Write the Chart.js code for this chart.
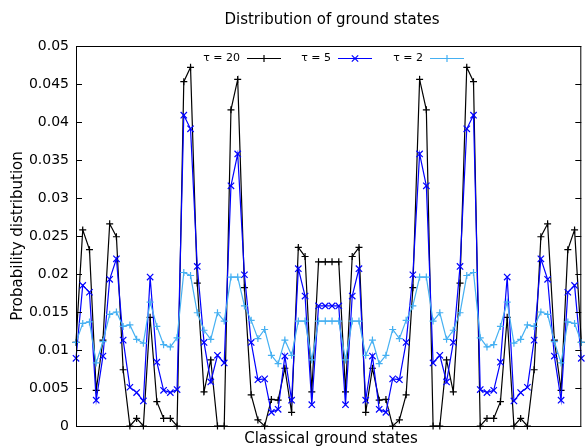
<!DOCTYPE html>
<html>
<head>
<meta charset="utf-8">
<script src="https://cdn.jsdelivr.net/npm/chart.js@4"></script>
<style>
  html, body { margin: 0; padding: 0; background: #fff; }
  #wrap { width: 587px; height: 448px; }
</style>
</head>
<body>
<div id="wrap"><canvas id="chart" width="587" height="448"></canvas></div>
<script>
/* Distribution of ground states - gnuplot style line chart */

var stateIndex = [];
for (var i = 0; i < 76; i++) stateIndex.push(i);

var seriesLabels = ['\u03c4 = 20', '\u03c4 = 5', '\u03c4 = 2'];

var tau20 = [
    0.0110, 0.0258, 0.0232, 0.0047, 0.0113, 0.0266, 0.0249, 0.0074, 0.0000, 0.0010,
    0.0000, 0.0143, 0.0032, 0.0010, 0.0010, 0.0000, 0.0453, 0.0472, 0.0188, 0.0045,
    0.0087, 0.0000, 0.0000, 0.0416, 0.0456, 0.0182, 0.0041, 0.0008, 0.0000, 0.0035,
    0.0034, 0.0076, 0.0018, 0.0235, 0.0223, 0.0045, 0.0216, 0.0216,
    0.0216, 0.0216, 0.0045, 0.0223, 0.0235, 0.0018, 0.0076, 0.0034, 0.0035, 0.0000,
    0.0008, 0.0041, 0.0182, 0.0456, 0.0416, 0.0000, 0.0000, 0.0087, 0.0045, 0.0188,
    0.0472, 0.0453, 0.0000, 0.0010, 0.0010, 0.0032, 0.0143, 0.0000, 0.0010, 0.0000,
    0.0074, 0.0249, 0.0266, 0.0113, 0.0047, 0.0232, 0.0258, 0.0110
];

var tau5 = [
    0.0089, 0.0185, 0.0176, 0.0034, 0.0092, 0.0193, 0.0220, 0.0113, 0.0051, 0.0044,
    0.0033, 0.0196, 0.0084, 0.0047, 0.0044, 0.0048, 0.0409, 0.0391, 0.0210, 0.0110,
    0.0058, 0.0093, 0.0083, 0.0316, 0.0358, 0.0199, 0.0110, 0.0061, 0.0062, 0.0018,
    0.0022, 0.0092, 0.0034, 0.0207, 0.0171, 0.0028, 0.0158, 0.0158,
    0.0158, 0.0158, 0.0028, 0.0171, 0.0207, 0.0034, 0.0092, 0.0022, 0.0018, 0.0062,
    0.0061, 0.0110, 0.0199, 0.0358, 0.0316, 0.0083, 0.0093, 0.0058, 0.0110, 0.0210,
    0.0391, 0.0409, 0.0048, 0.0044, 0.0047, 0.0084, 0.0196, 0.0033, 0.0044, 0.0051,
    0.0113, 0.0220, 0.0193, 0.0092, 0.0034, 0.0176, 0.0185, 0.0089
];

var tau2 = [
    0.0110, 0.0135, 0.0137, 0.0083, 0.0111, 0.0147, 0.0150, 0.0131, 0.0133, 0.0114,
    0.0109, 0.0163, 0.0131, 0.0107, 0.0104, 0.0116, 0.0202, 0.0198, 0.0149, 0.0126,
    0.0114, 0.0149, 0.0138, 0.0196, 0.0196, 0.0158, 0.0139, 0.0115, 0.0127, 0.0093,
    0.0082, 0.0113, 0.0093, 0.0138, 0.0138, 0.0087, 0.0138, 0.0138,
    0.0138, 0.0138, 0.0087, 0.0138, 0.0138, 0.0093, 0.0113, 0.0082, 0.0093, 0.0127,
    0.0115, 0.0139, 0.0158, 0.0196, 0.0196, 0.0138, 0.0149, 0.0114, 0.0126, 0.0149,
    0.0198, 0.0202, 0.0116, 0.0104, 0.0107, 0.0131, 0.0163, 0.0109, 0.0114, 0.0133,
    0.0131, 0.0150, 0.0147, 0.0111, 0.0083, 0.0137, 0.0135, 0.0110
];

var yTickLabels = ['0', '0.005', '0.01', '0.015', '0.02', '0.025', '0.03', '0.035', '0.04', '0.045', '0.05'];

var colors = ['#000000', '#0000ff', '#45b0f2'];
var markers = ['cross', 'crossRot', 'cross'];
var markerSize = [3.5, 4.5, 3.5];

function toPoints(values) {
    return values.map(function(v, idx) { return { x: stateIndex[idx], y: v }; });
}

var FONT = '"DejaVu Sans", sans-serif';

// Frame, inward ticks, titles and gnuplot-like key
var gnuplotDecor = {
    id: 'gnuplotDecor',
    afterDraw: function(chart) {
        var ctx = chart.ctx;
        var area = chart.chartArea;
        var yScale = chart.scales.y;
        ctx.save();

        // border
        ctx.strokeStyle = '#000';
        ctx.lineWidth = 1;
        ctx.strokeRect(area.left + 0.5, area.top + 0.5, area.right - area.left - 1, area.bottom - area.top);

        // inward ticks, mirrored on the right
        yScale.ticks.forEach(function(t) {
            var py = Math.round(yScale.getPixelForValue(t.value)) + 0.5;
            ctx.beginPath();
            ctx.moveTo(area.left, py);
            ctx.lineTo(area.left + 6, py);
            ctx.moveTo(area.right, py);
            ctx.lineTo(area.right - 6, py);
            ctx.stroke();
        });

        ctx.fillStyle = '#000';
        ctx.textBaseline = 'middle';
        ctx.textAlign = 'center';
        ctx.font = '15px ' + FONT;
        ctx.fillText('Distribution of ground states', 332, 20);
        ctx.fillText('Classical ground states', 331, 439);

        ctx.save();
        ctx.translate(18, (area.top + area.bottom) / 2);
        ctx.rotate(-Math.PI / 2);
        ctx.fillText('Probability distribution', 0, 0);
        ctx.restore();

        // key
        var keyY = 58;
        var textEnds = [240, 331, 423];
        ctx.font = '11px ' + FONT;
        ctx.textAlign = 'right';
        chart.data.datasets.forEach(function(ds, k) {
            var x0 = textEnds[k];
            ctx.fillStyle = '#000';
            ctx.fillText(ds.label, x0, keyY);
            ctx.strokeStyle = ds.borderColor;
            ctx.lineWidth = 1.2;
            ctx.beginPath();
            ctx.moveTo(x0 + 7, keyY + 0.5);
            ctx.lineTo(x0 + 41, keyY + 0.5);
            ctx.stroke();
            Chart.helpers.drawPoint(ctx, {
                pointStyle: ds.pointStyle,
                radius: ds.pointRadius,
                borderWidth: 1.2,
                rotation: 0
            }, x0 + 24, keyY + 0.5);
        });

        ctx.restore();
    }
};

var datasets = [tau20, tau5, tau2].map(function(values, k) {
    return {
        label: seriesLabels[k],
        data: toPoints(values),
        borderColor: colors[k],
        backgroundColor: colors[k],
        pointBorderColor: colors[k],
        pointStyle: markers[k],
        pointRadius: markerSize[k],
        pointBorderWidth: 1.2,
        borderWidth: 1.2,
        tension: 0,
        fill: false,
        clip: false,
        order: 3 - k
    };
});

new Chart(document.getElementById('chart'), {
    type: 'line',
    data: { datasets: datasets },
    options: {
        responsive: false,
        animation: false,
        events: [],
        layout: { padding: { top: 46, right: 1, bottom: 22, left: 0 } },
        plugins: {
            legend: { display: false },
            title: { display: false },
            tooltip: { enabled: false }
        },
        scales: {
            x: {
                type: 'linear',
                min: 0,
                max: stateIndex.length - 1,
                display: false
            },
            y: {
                type: 'linear',
                min: 0,
                max: 0.05,
                grid: { display: false, drawTicks: false },
                border: { display: false },
                ticks: {
                    stepSize: 0.005,
                    padding: 7,
                    color: '#000',
                    font: { family: FONT, size: 14 },
                    callback: function(value, index) { return yTickLabels[index]; }
                },
                afterFit: function(scale) { scale.width = 76; }
            }
        }
    },
    plugins: [gnuplotDecor]
});
</script>
</body>
</html>
